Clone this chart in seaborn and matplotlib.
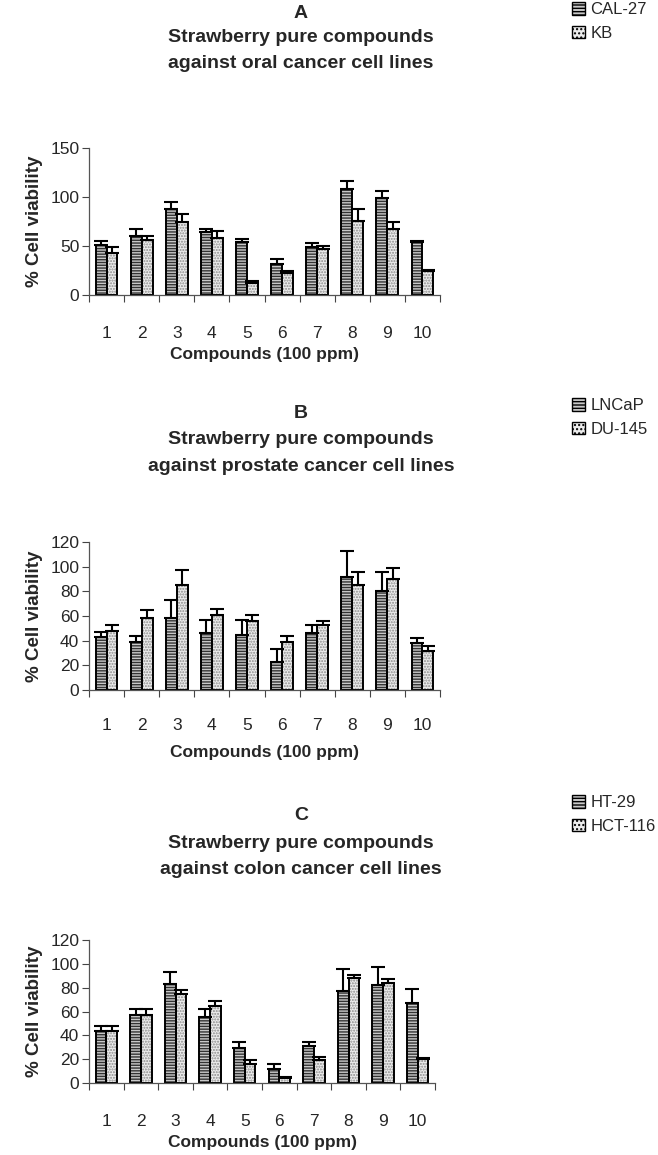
import numpy as np
import pandas as pd
import matplotlib
matplotlib.use("Agg")
import matplotlib.pyplot as plt
import seaborn as sns
from matplotlib.patches import Patch

compounds = [str(i) for i in range(1, 11)]

# Panel A - oral
a_names = ["CAL-27", "KB"]
a_s1 = [51, 60, 88, 64, 54, 32, 49, 108, 99, 54]
a_s1_err = [4, 7, 7, 3, 3, 5, 4, 8, 7, 1]
a_s2 = [43, 56, 74, 58, 12, 22, 47, 76, 67, 25]
a_s2_err = [6, 4, 9, 7, 2, 3, 3, 12, 7, 1]

# Panel B - prostate
b_names = ["LNCaP", "DU-145"]
b_s1 = [43, 39, 58, 46, 45, 23, 46, 92, 80, 38]
b_s1_err = [4, 5, 15, 11, 12, 10, 7, 21, 16, 4]
b_s2 = [48, 58, 85, 61, 56, 39, 53, 85, 90, 32]
b_s2_err = [5, 7, 12, 5, 5, 5, 3, 11, 9, 4]

# Panel C - colon
c_names = ["HT-29", "HCT-116"]
c_s1 = [44, 57, 83, 55, 29, 12, 31, 77, 82, 67]
c_s1_err = [4, 5, 10, 7, 5, 4, 3, 19, 15, 12]
c_s2 = [44, 57, 75, 65, 16, 4, 19, 88, 84, 20]
c_s2_err = [4, 5, 3, 4, 3, 1, 3, 3, 3, 1]

titles = ["A", "B", "C"]
subtitles = [
    ("Strawberry pure compounds", "against oral cancer cell lines"),
    ("Strawberry pure compounds", "against prostate cancer cell lines"),
    ("Strawberry pure compounds", "against colon cancer cell lines"),
]
ymax = [150, 120, 120]
yticks = [[0, 50, 100, 150], [0, 20, 40, 60, 80, 100, 120], [0, 20, 40, 60, 80, 100, 120]]
xlabel = "Compounds (100 ppm)"
ylabel = "% Cell viability"

sns.set_theme(style="white")
plt.rcParams["font.family"] = ["Liberation Sans", "DejaVu Sans"]
plt.rcParams["hatch.linewidth"] = 1.0

W, H = 658, 1155
fig = plt.figure(figsize=(W / 100, H / 100), dpi=100)

def fx(px):
    return px / W

def fy(py):
    return 1 - py / H

# axes boxes in pixels: (left, top, right, bottom)
boxes = [(89, 148, 440, 295), (89, 542, 440, 690), (89, 940, 435, 1083)]
title_y = [(13, 38, 63), (413, 440, 466), (815, 843, 870)]
legend_y = [12, 408, 805]
tick_y = [325, 718, 1113]
xlab_y = [355, 753, 1143]

panels = [
    (a_names, a_s1, a_s1_err, a_s2, a_s2_err),
    (b_names, b_s1, b_s1_err, b_s2, b_s2_err),
    (c_names, c_s1, c_s1_err, c_s2, c_s2_err),
]

face1, hatch1, hcol1 = "#c8c8c8", "------", "#333333"
face2, hatch2, hcol2 = "#ececec", "......", "#8a8a8a"

for k, (names, s1, e1, s2, e2) in enumerate(panels):
    l, t, r, b = boxes[k]
    ax = fig.add_axes([fx(l), fy(b), fx(r - l), (b - t) / H])
    df = pd.DataFrame({
        "compound": compounds * 2,
        "value": list(s1) + list(s2),
        "line": [names[0]] * 10 + [names[1]] * 10,
    })
    # fill + hatch layer
    sns.barplot(data=df, x="compound", y="value", hue="line", hue_order=names,
                palette=[face1, face2], errorbar=None, width=0.62, ax=ax,
                legend=False, linewidth=0, saturation=1)
    bars = sorted(ax.patches, key=lambda p: p.get_x())
    for i, p in enumerate(bars):
        if i % 2 == 0:
            p.set_hatch(hatch1)
            p.set_edgecolor(hcol1)
        else:
            p.set_hatch(hatch2)
            p.set_edgecolor(hcol2)
        p.set_linewidth(0)
    # outline layer
    sns.barplot(data=df, x="compound", y="value", hue="line", hue_order=names,
                palette=["black", "black"], errorbar=None, width=0.62, ax=ax,
                legend=False, fill=False, linewidth=1.4)
    # error bars (upper only)
    errs = []
    for a, c in zip(e1, e2):
        errs += [a, c]
    xs = [p.get_x() + p.get_width() / 2 for p in bars]
    hs = [p.get_height() for p in bars]
    ax.errorbar(xs, hs, yerr=[np.zeros(len(errs)), errs], fmt="none",
                ecolor="black", elinewidth=1.5, capsize=5, capthick=1.5, zorder=5)

    ax.set_xlim(-0.5, 9.5)
    ax.set_ylim(0, ymax[k])
    ax.set_yticks(yticks[k])
    ax.set_xticks(range(10))
    ax.set_xticklabels(compounds)
    ax.set_xticks(np.arange(-0.5, 10, 1), minor=True)
    ax.tick_params(axis="x", which="major", length=0, labelsize=12.5, pad=(tick_y[k] - b) - 8)
    ax.tick_params(axis="x", which="minor", length=5, width=0.8, color="#444444", direction="out", bottom=True)
    ax.tick_params(axis="y", length=5, width=0.8, color="#444444", direction="out", left=True, labelsize=12.5, pad=2)
    for s in ["top", "right"]:
        ax.spines[s].set_visible(False)
    for s in ["left", "bottom"]:
        ax.spines[s].set_color("#555555")
        ax.spines[s].set_linewidth(0.9)
    ax.set_xlabel("")
    ax.set_ylabel(ylabel, fontsize=13.5, fontweight="bold", labelpad=5)

    cx = fx(301)
    fig.text(cx, fy(title_y[k][0]), titles[k], ha="center", va="center", fontsize=14, fontweight="bold")
    fig.text(cx, fy(title_y[k][1]), subtitles[k][0], ha="center", va="center", fontsize=14, fontweight="bold")
    fig.text(cx, fy(title_y[k][2]), subtitles[k][1], ha="center", va="center", fontsize=14, fontweight="bold")
    fig.text(fx((l + r) / 2), fy(xlab_y[k]), xlabel, ha="center", va="center", fontsize=12.5, fontweight="bold")

    handles = [Patch(facecolor=face1, hatch="-----", edgecolor="black", label=names[0]),
               Patch(facecolor=face2, hatch="....", edgecolor="black", label=names[1])]
    fig.legend(handles=handles, loc="upper left",
               bbox_to_anchor=(fx(572), fy(legend_y[k] - 10)),
               frameon=False, fontsize=12, handlelength=0.8, handleheight=0.8,
               handletextpad=0.3, labelspacing=0.5, borderpad=0, borderaxespad=0)

fig.savefig("out.png", dpi=100)
